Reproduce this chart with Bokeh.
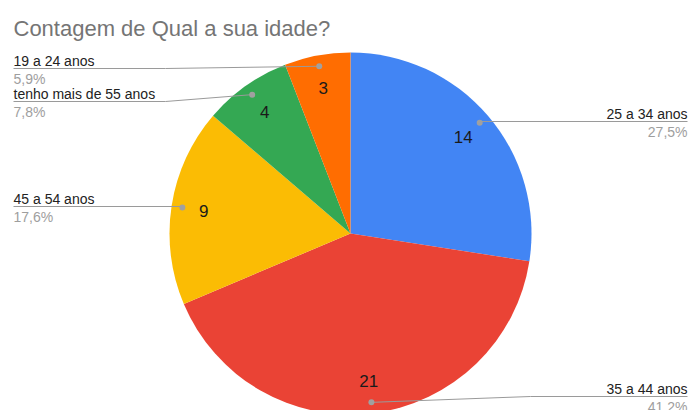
import math
from bokeh.plotting import figure
from bokeh.models import ColumnDataSource, Range1d
from bokeh.core.properties import value
from bokeh.embed import file_html
from bokeh.resources import INLINE

# ---- data ----
categories = ["25 a 34 anos", "35 a 44 anos", "45 a 54 anos", "tenho mais de 55 anos", "19 a 24 anos"]
counts = [14, 21, 9, 4, 3]
colors = ["#4285F4", "#EA4335", "#FBBC04", "#34A853", "#FF6D01"]
title_text = "Contagem de Qual a sua idade?"

# ---- layout (pixels, top-down) ----
W, H = 690, 410
CX, CY, R = 350, 233, 181
label_line_y = [121, 396, 206, 101, 68]
FONT = "Liberation Sans"

def Y(ypix):
    return H - ypix

total = sum(counts)
starts, ends, mids = [], [], []
cum = 0
for c in counts:
    a0 = cum / total * 2 * math.pi
    cum += c
    a1 = cum / total * 2 * math.pi
    starts.append(math.pi / 2 - a0)
    ends.append(math.pi / 2 - a1)
    mids.append((a0 + a1) / 2)  # clockwise from top

p = figure(width=W, height=H, x_range=Range1d(0, W), y_range=Range1d(0, H),
           x_axis_type=None, y_axis_type=None, toolbar_location=None,
           output_backend="svg", min_border=0, outline_line_color=None)
p.grid.visible = False
p.background_fill_color = "white"
p.border_fill_color = "white"

src = ColumnDataSource(dict(x=[CX] * len(counts), y=[Y(CY)] * len(counts),
                            start=starts, end=ends, color=colors))
p.wedge(x="x", y="y", radius=R, start_angle="start", end_angle="end",
        direction="clock", fill_color="color", line_color=None, source=src)

# value labels inside slices
vx, vy = [], []
for m in mids:
    vx.append(CX + 0.82 * R * math.sin(m))
    vy.append(Y(CY - 0.82 * R * math.cos(m)))
p.text(x=vx, y=vy, text=[str(c) for c in counts], text_align="center",
       text_baseline="middle", text_font=value(FONT), text_font_size="17px",
       text_color="#1a1a1a")

# leader lines, dots and outside labels
dx, dy = [], []
lab_x, lab_y, lab_t, lab_al = [], [], [], []
pct_x, pct_y, pct_t, pct_al = [], [], [], []
for i, m in enumerate(mids):
    px_ = CX + 0.94 * R * math.sin(m)
    py_ = CY - 0.94 * R * math.cos(m)
    dx.append(px_); dy.append(Y(py_))
    ly = label_line_y[i]
    right = m < math.pi
    if right:
        bend = max(px_, 530 if abs(py_ - ly) > 2 else px_)
        xs = [px_, bend, 687]
        tx, al = 687, "right"
    else:
        bend = min(px_, 165 if abs(py_ - ly) > 2 else px_)
        xs = [px_, bend, 13]
        tx, al = 13, "left"
    p.line(x=xs, y=[Y(py_), Y(ly), Y(ly)], line_color="#9a9a9a", line_width=1)
    lab_x.append(tx); lab_y.append(Y(ly - 8)); lab_t.append(categories[i]); lab_al.append(al)
    pct = f"{counts[i] / total * 100:.1f}".replace(".", ",") + "%"
    pct_x.append(tx); pct_y.append(Y(ly + 10)); pct_t.append(pct); pct_al.append(al)

p.scatter(x=dx, y=dy, size=6, fill_color="#a0a0a0", line_color=None)
p.text(x=lab_x, y=lab_y, text=lab_t, text_align=lab_al, text_baseline="alphabetic",
       text_font=value(FONT), text_font_size="14px", text_color="#222222")
p.text(x=pct_x, y=pct_y, text=pct_t, text_align=pct_al, text_baseline="alphabetic",
       text_font=value(FONT), text_font_size="14px", text_color="#9e9e9e")

# title
p.text(x=[13], y=[Y(28)], text=[title_text], text_align="left", text_baseline="alphabetic",
       text_font=value(FONT), text_font_size="22px", text_color="#757575")

open("out.html", "w").write(file_html(p, INLINE))
